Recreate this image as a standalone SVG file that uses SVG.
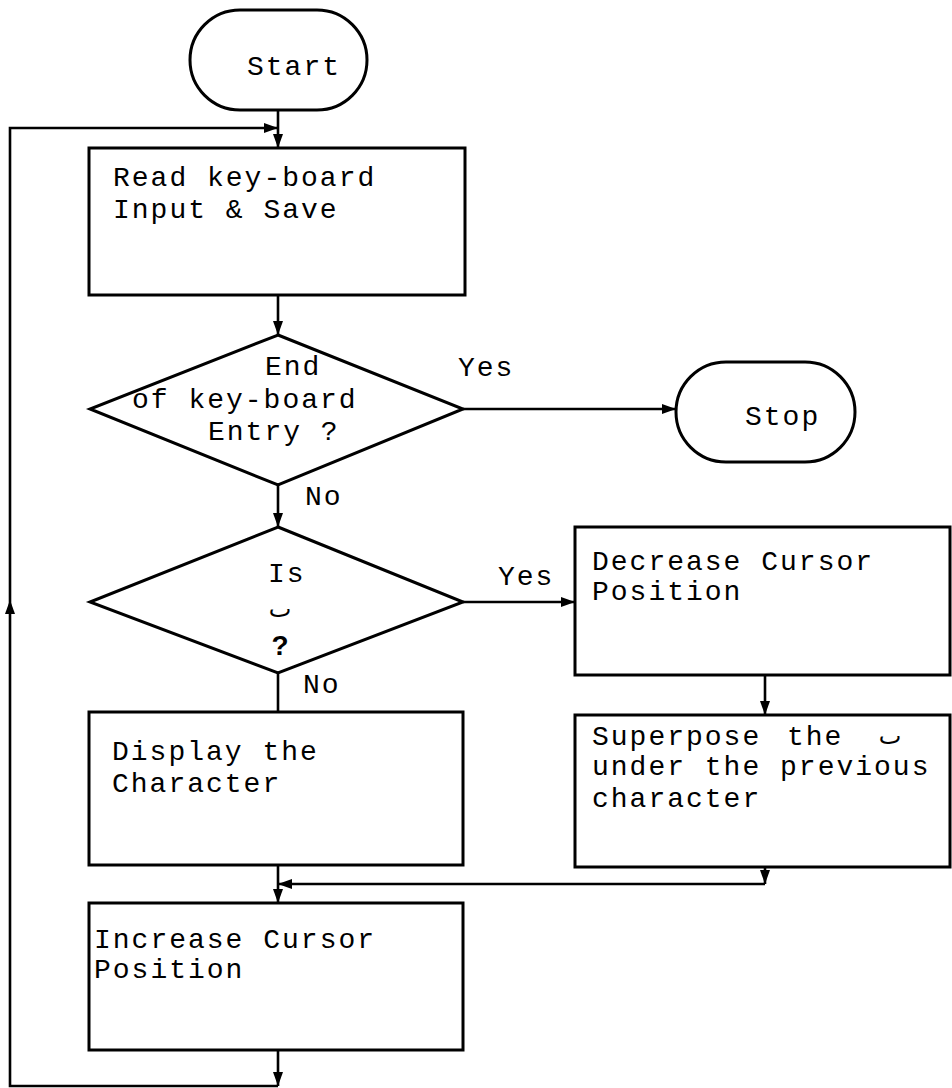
<svg xmlns="http://www.w3.org/2000/svg" width="952" height="1088" viewBox="0 0 952 1088">
  <defs>
    <marker id="arrow" viewBox="0 0 14 10" refX="14" refY="5" markerWidth="14" markerHeight="10" markerUnits="userSpaceOnUse" orient="auto">
      <path d="M0,0 L14,5 L0,10 Z" fill="#000"/>
    </marker>
    <style>
      .shape { fill: #fff; stroke: #000; stroke-width: 3; }
      .wire { fill: none; stroke: #000; stroke-width: 2.6; }
      .lbl { font-family: "Liberation Mono", "Courier New", monospace; font-size: 28px; letter-spacing: 2px; fill: #000; }
      .qm { font-family: "Liberation Sans", Arial, sans-serif; font-weight: bold; font-size: 28px; fill: #000; }
      .ar { font-family: "DejaVu Sans", "Noto Sans", sans-serif; font-size: 24px; fill: #000; }
    </style>
  </defs>
  <rect width="952" height="1088" fill="#fff"/>

  <!-- connectors -->
  <g id="connectors">
    <path class="wire" d="M278,110 V148" marker-end="url(#arrow)"/>
    <path class="wire" d="M278,295 V335" marker-end="url(#arrow)"/>
    <path class="wire" d="M463,409 H676" marker-end="url(#arrow)"/>
    <path class="wire" d="M278,485 V527" marker-end="url(#arrow)"/>
    <path class="wire" d="M463,602 H575" marker-end="url(#arrow)"/>
    <path class="wire" d="M278,673 V712"/>
    <path class="wire" d="M765,675 V715" marker-end="url(#arrow)"/>
    <path class="wire" d="M278,865 V903" marker-end="url(#arrow)"/>
    <path class="wire" d="M765,867 V884" marker-end="url(#arrow)"/>
    <path class="wire" d="M765,884 H278" marker-end="url(#arrow)"/>
    <path class="wire" d="M278,1050 V1086" marker-end="url(#arrow)"/>
    <!-- return loop back to the keyboard read -->
    <path class="wire" d="M278,1086 H10 V600" marker-end="url(#arrow)"/>
    <path class="wire" d="M10,600 V128 H278" marker-end="url(#arrow)"/>
  </g>

  <g id="start">
    <rect class="shape" x="190" y="10" width="177" height="100" rx="50" ry="50"/>
    <text class="lbl" x="247" y="75">Start</text>
  </g>

  <g id="read-input">
    <rect class="shape" x="89" y="148" width="376" height="147"/>
    <text class="lbl" x="113" y="186">Read key-board</text>
    <text class="lbl" x="113" y="218">Input &amp; Save</text>
  </g>

  <g id="end-of-entry">
    <polygon class="shape" points="278,335 463,409 278,485 90,409"/>
    <text class="lbl" x="265" y="375">End</text>
    <text class="lbl" x="132" y="408">of key-board</text>
    <text class="lbl" x="208" y="440">Entry ?</text>
    <text class="lbl" x="458" y="376">Yes</text>
    <text class="lbl" x="305" y="505">No</text>
  </g>

  <g id="stop">
    <rect class="shape" x="676" y="362" width="179" height="100" rx="50" ry="50"/>
    <text class="lbl" x="745" y="425">Stop</text>
  </g>

  <g id="is-char">
    <polygon class="shape" points="278,527 463,602 278,673 90,602"/>
    <text class="lbl" x="268" y="582">Is</text>
    <text class="ar" x="280" y="617" text-anchor="middle">ٮ</text>
    <text class="qm" x="280" y="655" text-anchor="middle">?</text>
    <text class="lbl" x="498" y="585">Yes</text>
    <text class="lbl" x="303" y="693">No</text>
  </g>

  <g id="decrease-cursor">
    <rect class="shape" x="575" y="527" width="375" height="148"/>
    <text class="lbl" x="592" y="570">Decrease Cursor</text>
    <text class="lbl" x="592" y="600">Position</text>
  </g>

  <g id="display-char">
    <rect class="shape" x="89" y="712" width="374" height="153"/>
    <text class="lbl" x="112" y="760">Display the</text>
    <text class="lbl" x="112" y="792">Character</text>
  </g>

  <g id="superpose">
    <rect class="shape" x="575" y="715" width="375" height="152"/>
    <text class="lbl" x="592" y="745">Superpose</text>
    <text class="lbl" x="787" y="745">the</text>
    <text class="ar" x="890" y="744" text-anchor="middle">ٮ</text>
    <text class="lbl" x="592" y="775">under the previous</text>
    <text class="lbl" x="592" y="807">character</text>
  </g>

  <g id="increase-cursor">
    <rect class="shape" x="89" y="903" width="374" height="147"/>
    <text class="lbl" x="94" y="948">Increase Cursor</text>
    <text class="lbl" x="94" y="978">Position</text>
  </g>
</svg>
